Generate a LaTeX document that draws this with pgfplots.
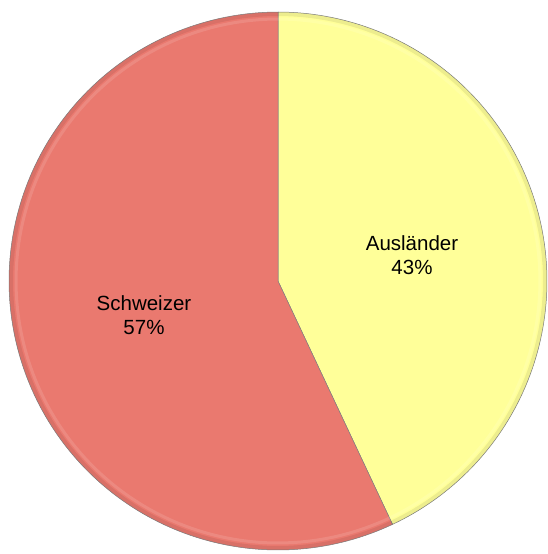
\documentclass[border=0pt]{standalone}
\usepackage{pgfplots}
\pgfplotsset{compat=1.18}
\usepackage{pgfplotstable}
\usepackage{fontspec}
\setmainfont{Liberation Sans}
\definecolor{pieyellow}{RGB}{255,255,153}
\definecolor{piered}{RGB}{234,121,111}
\pgfplotstableread{
name value
Auslaender 43
Schweizer 57
}\piedata
\pgfplotstablegetelem{0}{value}\of\piedata
\let\va\pgfplotsretval
\pgfmathsetmacro{\angA}{90-3.6*\va}
\pgfmathsetmacro{\angB}{\angA+360}
\begin{document}
\begin{tikzpicture}
\begin{axis}[
  width=546pt, height=554pt, scale only axis,
  xmin=0, xmax=546, ymin=0, ymax=554, y dir=reverse,
  hide axis, clip=false,
  every axis plot/.append style={no markers},
]
\path (rel axis cs:0,0) rectangle (rel axis cs:1,1);
% Auslaender slice
\addplot[fill=pieyellow, draw=black!50, line width=0.5pt, domain=\angA:90, samples=120, variable=\t]
  ({278+269*cos(\t)}, {281-269*sin(\t)}) -- (axis cs:278,281) -- cycle;
% Schweizer slice
\addplot[fill=piered, draw=black!50, line width=0.5pt, domain=90:\angB, samples=160, variable=\t]
  ({278+269*cos(\t)}, {281-269*sin(\t)}) -- (axis cs:278,281) -- cycle;
% bevel rim
\addplot[draw=black, opacity=0.07, line width=4pt, domain=0:360, samples=200, variable=\t]
  ({278+267*cos(\t)}, {281-267*sin(\t)});
\addplot[draw=white, opacity=0.12, line width=3pt, domain=0:360, samples=200, variable=\t]
  ({278+262*cos(\t)}, {281-262*sin(\t)});
\node[align=center, inner sep=0pt, font=\fontsize{20.5}{24.5}\selectfont] at (axis cs:144,315) {Schweizer\\57\%};
\node[align=center, inner sep=0pt, font=\fontsize{20.5}{24.5}\selectfont] at (axis cs:412,255) {Ausländer\\43\%};
\end{axis}
\end{tikzpicture}
\end{document}
